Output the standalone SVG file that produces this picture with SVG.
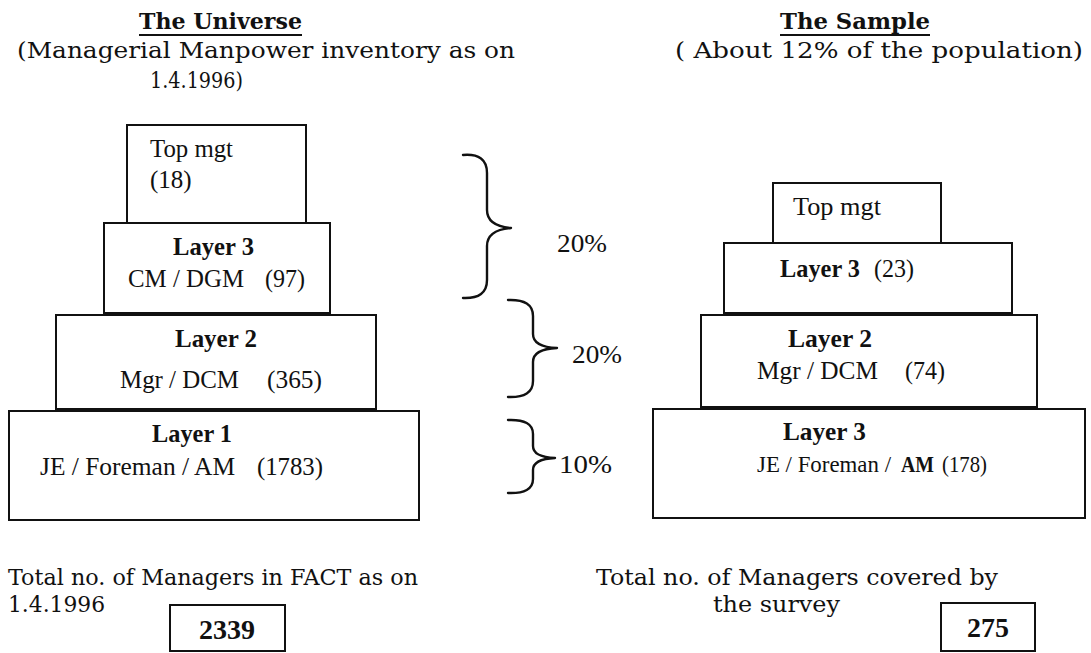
<svg xmlns="http://www.w3.org/2000/svg" width="1091" height="653" viewBox="0 0 1091 653">
  <style>
    .bg { fill: #ffffff; }
    .box { fill: #ffffff; stroke: #111111; stroke-width: 2; }
    .brace { fill: none; stroke: #111111; stroke-width: 2.4; stroke-linecap: round; stroke-linejoin: round; }
    .rule { stroke: #111111; stroke-width: 2; }
    .t { font-family: "Liberation Serif", "Times New Roman", serif; fill: #111111; }
    .p { font-family: "DejaVu Serif", "Liberation Serif", serif; fill: #111111; }
    .head { font-size: 23px; font-weight: bold; }
    .cap { font-size: 23px; }
    .pct { font-size: 25px; }
    .lbl { font-size: 25px; }
    .lbs { font-size: 23px; }
    .b { font-weight: bold; }
    .num { font-size: 28px; font-weight: bold; text-anchor: middle; }
  </style>

  <rect class="bg" x="0" y="0" width="1091" height="653"/>

  <!-- Headings -->
  <g id="heading-universe">
    <text class="p head" x="139" y="29" textLength="163" lengthAdjust="spacingAndGlyphs">The Universe</text>
    <line class="rule" x1="139" y1="35" x2="302" y2="35"/>
    <text class="p cap" x="17" y="58" textLength="498" lengthAdjust="spacingAndGlyphs">(Managerial Manpower inventory as on</text>
    <text class="p cap" x="150" y="88" textLength="93" lengthAdjust="spacingAndGlyphs">1.4.1996)</text>
  </g>
  <g id="heading-sample">
    <text class="p head" x="780" y="29" textLength="150" lengthAdjust="spacingAndGlyphs">The Sample</text>
    <line class="rule" x1="780" y1="35" x2="930" y2="35"/>
    <text class="p cap" x="675" y="58" textLength="408" lengthAdjust="spacingAndGlyphs">( About 12% of the population)</text>
  </g>

  <!-- Universe pyramid -->
  <g id="u-top">
    <rect class="box" x="127" y="125" width="179" height="98"/>
    <text class="t lbl" x="150" y="157" textLength="83" lengthAdjust="spacingAndGlyphs">Top mgt</text>
    <text class="t lbl" x="150" y="188">(18)</text>
  </g>
  <g id="u-layer3">
    <rect class="box" x="104" y="223" width="226" height="90"/>
    <text class="t lbl b" x="173" y="255" textLength="81" lengthAdjust="spacingAndGlyphs">Layer 3</text>
    <text class="t lbl" x="128" y="287" textLength="116" lengthAdjust="spacingAndGlyphs">CM / DGM</text>
    <text class="t lbl" x="265" y="287" textLength="40" lengthAdjust="spacingAndGlyphs">(97)</text>
  </g>
  <g id="u-layer2">
    <rect class="box" x="56" y="315" width="320" height="94"/>
    <text class="t lbl b" x="175" y="347" textLength="82" lengthAdjust="spacingAndGlyphs">Layer 2</text>
    <text class="t lbl" x="120" y="388" textLength="119" lengthAdjust="spacingAndGlyphs">Mgr / DCM</text>
    <text class="t lbl" x="267" y="388" textLength="55" lengthAdjust="spacingAndGlyphs">(365)</text>
  </g>
  <g id="u-layer1">
    <rect class="box" x="9" y="411" width="410" height="109"/>
    <text class="t lbl b" x="152" y="442" textLength="80" lengthAdjust="spacingAndGlyphs">Layer 1</text>
    <text class="t lbl" x="40" y="475" textLength="195" lengthAdjust="spacingAndGlyphs">JE / Foreman / AM</text>
    <text class="t lbl" x="257" y="475" textLength="66" lengthAdjust="spacingAndGlyphs">(1783)</text>
  </g>

  <!-- Sampling braces and percentages -->
  <g id="connectors">
    <path class="brace" d="M463,155 Q487,153 487,173 L487,210 Q487,226 511,228 Q487,230 487,246 L487,280 Q487,299 463,298"/>
    <path class="brace" d="M508,300 Q533,299 533,316 L533,334 Q533,347 557,348 Q533,349 533,362 L533,381 Q533,398 508,397"/>
    <path class="brace" d="M508,420 Q533,419 533,434 L533,446 Q533,457 555,458 Q533,459 533,470 L533,479 Q533,494 508,493"/>
  </g>
  <g id="pct-top">
    <text class="t pct" x="557" y="252" textLength="50" lengthAdjust="spacingAndGlyphs">20%</text>
  </g>
  <g id="pct-mid">
    <text class="t pct" x="572" y="363" textLength="50" lengthAdjust="spacingAndGlyphs">20%</text>
  </g>
  <g id="pct-low">
    <text class="t pct" x="559" y="473" textLength="53" lengthAdjust="spacingAndGlyphs">10%</text>
  </g>

  <!-- Sample pyramid -->
  <g id="s-top">
    <rect class="box" x="773" y="183" width="168" height="60"/>
    <text class="t lbl" x="793" y="215" textLength="88" lengthAdjust="spacingAndGlyphs">Top mgt</text>
  </g>
  <g id="s-layer3">
    <rect class="box" x="724" y="243" width="288" height="70"/>
    <text class="t lbl b" x="780" y="277" textLength="80" lengthAdjust="spacingAndGlyphs">Layer 3</text>
    <text class="t lbl" x="874" y="277" textLength="40" lengthAdjust="spacingAndGlyphs">(23)</text>
  </g>
  <g id="s-layer2">
    <rect class="box" x="701" y="315" width="336" height="92"/>
    <text class="t lbl b" x="788" y="347" textLength="84" lengthAdjust="spacingAndGlyphs">Layer 2</text>
    <text class="t lbl" x="757" y="379" textLength="121" lengthAdjust="spacingAndGlyphs">Mgr / DCM</text>
    <text class="t lbl" x="905" y="379" textLength="40" lengthAdjust="spacingAndGlyphs">(74)</text>
  </g>
  <g id="s-layer1">
    <rect class="box" x="653" y="409" width="432" height="109"/>
    <text class="t lbl b" x="783" y="440" textLength="83" lengthAdjust="spacingAndGlyphs">Layer 3</text>
    <text class="t lbs" x="757" y="472" textLength="134" lengthAdjust="spacingAndGlyphs">JE / Foreman /</text>
    <text class="t lbs b" x="901" y="472" textLength="33" lengthAdjust="spacingAndGlyphs">AM</text>
    <text class="t lbs" x="942" y="472" textLength="45" lengthAdjust="spacingAndGlyphs">(178)</text>
  </g>

  <!-- Totals -->
  <g id="u-total">
    <text class="p cap" x="8" y="585" textLength="410" lengthAdjust="spacingAndGlyphs">Total no. of Managers in FACT as on</text>
    <text class="p cap" x="8" y="612" textLength="97" lengthAdjust="spacingAndGlyphs">1.4.1996</text>
    <rect class="box" x="170" y="605" width="115" height="46"/>
    <text class="t num" x="227" y="639">2339</text>
  </g>
  <g id="s-total">
    <text class="p cap" x="596" y="585" textLength="402" lengthAdjust="spacingAndGlyphs">Total no. of Managers covered by</text>
    <text class="p cap" x="713" y="612" textLength="127" lengthAdjust="spacingAndGlyphs">the survey</text>
    <rect class="box" x="941" y="603" width="94" height="48"/>
    <text class="t num" x="988" y="637">275</text>
  </g>
</svg>
